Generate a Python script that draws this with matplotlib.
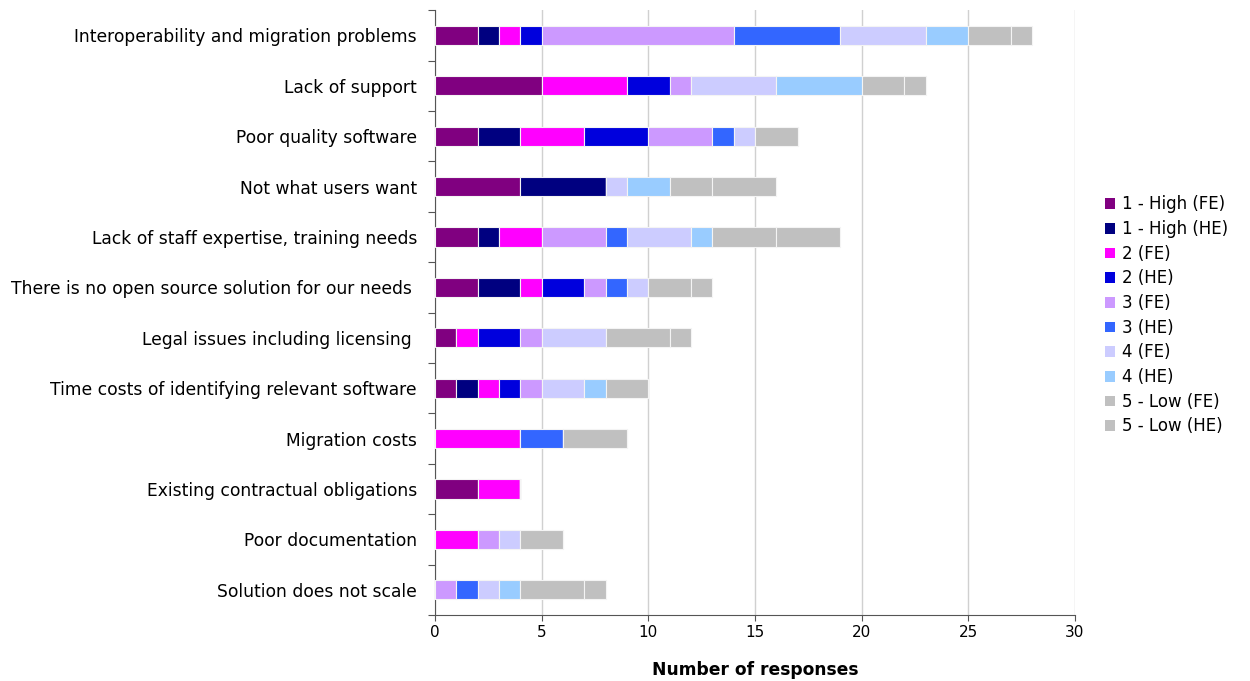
import numpy as np
import matplotlib
matplotlib.use("Agg")
import matplotlib.pyplot as plt
from matplotlib.patches import Patch

categories = [
    "Interoperability and migration problems",
    "Lack of support",
    "Poor quality software",
    "Not what users want",
    "Lack of staff expertise, training needs",
    "There is no open source solution for our needs ",
    "Legal issues including licensing ",
    "Time costs of identifying relevant software",
    "Migration costs",
    "Existing contractual obligations",
    "Poor documentation",
    "Solution does not scale",
]

series_names = ["1 - High (FE)", "1 - High (HE)", "2 (FE)", "2 (HE)", "3 (FE)",
                "3 (HE)", "4 (FE)", "4 (HE)", "5 - Low (FE)", "5 - Low (HE)"]

high_fe = [2, 5, 2, 4, 2, 2, 1, 1, 0, 2, 0, 0]
high_he = [1, 0, 2, 4, 1, 2, 0, 1, 0, 0, 0, 0]
two_fe = [1, 4, 3, 0, 2, 1, 1, 1, 4, 2, 2, 0]
two_he = [1, 2, 3, 0, 0, 2, 2, 1, 0, 0, 0, 0]
three_fe = [9, 1, 3, 0, 3, 1, 1, 1, 0, 0, 1, 1]
three_he = [5, 0, 1, 0, 1, 1, 0, 0, 2, 0, 0, 1]
four_fe = [4, 4, 1, 1, 3, 1, 3, 2, 0, 0, 1, 1]
four_he = [2, 4, 0, 2, 1, 0, 0, 1, 0, 0, 0, 1]
low_fe = [2, 2, 2, 2, 3, 2, 3, 2, 3, 0, 2, 3]
low_he = [1, 1, 0, 3, 3, 1, 1, 0, 0, 0, 0, 1]

series = [high_fe, high_he, two_fe, two_he, three_fe,
          three_he, four_fe, four_he, low_fe, low_he]
colors = ["#800080", "#000080", "#FF00FF", "#0000DD", "#CC99FF",
          "#3366FF", "#CCCCFF", "#99CCFF", "#C0C0C0", "#C0C0C0"]

fig = plt.figure(figsize=(12.5, 6.81), dpi=100)
ax = fig.add_axes([0.348, 0.097, 0.512, 0.888])

y = np.arange(len(categories))
left = np.zeros(len(categories))
for vals, col, name in zip(series, colors, series_names):
    vals = np.array(vals, dtype=float)
    ax.barh(y, vals, left=left, height=0.38, color=col, edgecolor="#f4f4f4",
            linewidth=0.8, label=name, zorder=3)
    left += vals

ax.set_xlim(0, 30)
ax.set_ylim(len(categories) - 0.5, -0.5)
ax.set_xticks(np.arange(0, 31, 5))
ax.tick_params(axis="x", labelsize=11, length=4, color="#555555")
ax.xaxis.grid(True, color="#d0d0d0", linewidth=1, zorder=0)

# tick marks on category boundaries, labels on category centres
ax.set_yticks(np.arange(-0.5, len(categories), 1.0))
ax.set_yticklabels([])
ax.tick_params(axis="y", which="major", length=5, color="#555555")
ax.set_yticks(y, minor=True)
ax.set_yticklabels(categories, minor=True, fontsize=12.3)
ax.tick_params(axis="y", which="minor", length=0, pad=13)

for s in ["top", "right"]:
    ax.spines[s].set_visible(False)
for s in ["left", "bottom"]:
    ax.spines[s].set_color("#555555")

ax.set_xlabel("Number of responses", fontsize=12.3, fontweight="bold", labelpad=15)

handles = [Patch(facecolor=c, edgecolor="none") for c in colors]
fig.legend(handles, series_names, loc="upper left", bbox_to_anchor=(0.872, 0.735),
           frameon=False, fontsize=12, handlelength=0.6, handleheight=0.6,
           handletextpad=0.45, labelspacing=0.4)

fig.savefig("out.png", dpi=100)
